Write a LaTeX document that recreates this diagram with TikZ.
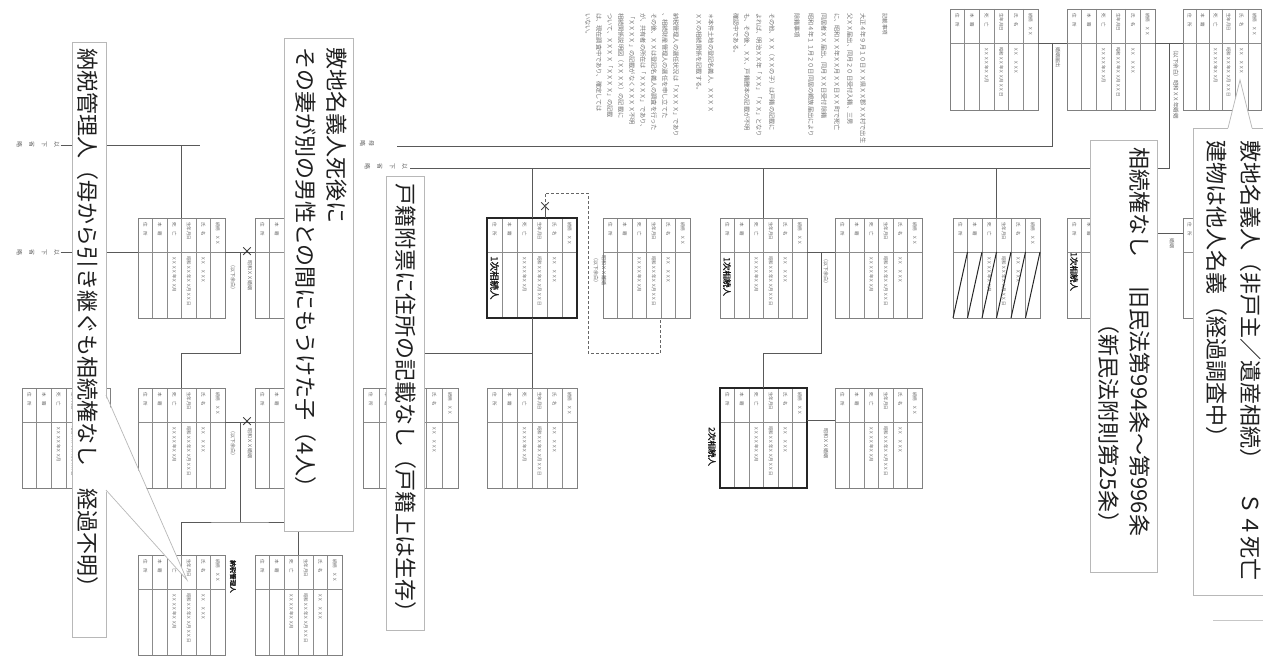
\documentclass[tikz,border=0pt]{standalone}
\usepackage{fontspec}
\setmainfont{Noto Sans CJK JP}
\newfontfamily\jpb{Noto Sans CJK JP}[FakeBold=1.5]
\usetikzlibrary{calc,fit}

\tikzset{
  conn/.style={draw=black!65, line width=0.9pt},
  dconn/.style={draw=black!60, line width=0.8pt, dash pattern=on 3pt off 2pt},
  tblframe/.style={draw=black!50, line width=0.6pt},
  tblbold/.style={draw=black!85, line width=1.4pt},
  tblgrid/.style={draw=black!45, line width=0.5pt},
  celltxt/.style={font=\fontsize{4.5}{5}\selectfont, text=black!60, inner sep=0pt, rotate=-90},
  conntxt/.style={font=\fontsize{5}{6}\selectfont, text=black!60, inner sep=0pt, rotate=-90, anchor=west},
  stacktxt/.style={font=\fontsize{6}{12.5}\selectfont, text=black!60, inner sep=1pt, align=center, rotate=-90},
  boldtxt/.style={font=\jpb\fontsize{8.5}{9}\selectfont, text=black!90, inner sep=0pt, rotate=-90, anchor=west},
  calloutbox/.style={draw=black!28, fill=white, line width=0.7pt, inner sep=0pt, anchor=north west},
  bigtxt/.style={font=\fontsize{22}{26}\selectfont, text=black!88, inner sep=0pt, rotate=-90},
  paratxt/.style={font=\fontsize{6.2}{7}\selectfont, text=black!55, inner sep=0pt, rotate=-90, anchor=west},
  xmark/.style={font=\fontsize{13}{13}\selectfont, text=black!85, inner sep=0pt},
}

% name, x1, y1, x2, y2, columns, frame style
\newcommand\famtbl[7]{%
  \coordinate (#1-a) at (#2,#3);
  \coordinate (#1-b) at (#4,#5);
  \node[fit=(#1-a)(#1-b), inner sep=0pt, outer sep=0pt, fill=white] (#1) {};
  \pgfmathsetmacro\tblw{(#4-#2)/#6}
  \pgfmathtruncatemacro\tbln{#6-1}
  \foreach \k in {1,...,\tbln}{\draw[tblgrid] ({#2+\k*\tblw},#3) -- ({#2+\k*\tblw},#5);}
  \draw[tblgrid] (#2,{#3+34}) -- (#4,{#3+34});
  \foreach \j/\h/\v in {0/続柄　ＸＸ/,1/氏　名/ＸＸ　ＸＸＸ,2/生年月日/昭和ＸＸ年ＸＸ月ＸＸ日,3/死　亡/ＸＸＸＸ年ＸＸ月,4/本　籍/,5/住　所/}{%
    \ifnum\j<#6\relax
      \node[celltxt, anchor=west] (#1-h\j) at ({#4-(\j+0.5)*\tblw},{#3+4}) {\h};
      \node[celltxt, anchor=west] (#1-v\j) at ({#4-(\j+0.5)*\tblw},{#3+38}) {\v};
    \fi}
  \draw[#7] (#1.north west) rectangle (#1.south east);
}

\begin{document}
\begin{tikzpicture}[x=1pt,y=-1pt]
\useasboundingbox (0,0) rectangle (1263,658);
\clip (0,0) rectangle (1263,658);
\fill[white] (0,0) rectangle (1263,658);

% ---------------- tables ----------------
\famtbl{TA}{950}{9}{1038}{110}{6}{tblframe}
\famtbl{TB}{1067}{9}{1155}{110}{6}{tblframe}
\famtbl{TC}{1183}{9}{1261}{110}{6}{tblframe}
\famtbl{L1}{138}{218}{225}{318}{6}{tblframe}
\famtbl{L2}{255}{218}{342}{318}{6}{tblframe}
\famtbl{L0}{22}{388}{110}{488}{6}{tblframe}
\famtbl{L3}{138}{388}{225}{488}{6}{tblframe}
\famtbl{L4}{255}{388}{342}{488}{6}{tblframe}
\famtbl{L5}{138}{555}{225}{655}{6}{tblframe}
\famtbl{L6}{255}{555}{342}{655}{6}{tblframe}
\famtbl{P1}{487}{218}{577}{318}{6}{tblbold}
\famtbl{M1}{603}{218}{690}{318}{6}{tblframe}
\famtbl{M2}{720}{218}{807}{318}{6}{tblframe}
\famtbl{M3}{835}{218}{922}{318}{6}{tblframe}
\famtbl{M7}{953}{218}{1040}{318}{6}{tblframe}
\famtbl{M8}{1067}{218}{1155}{318}{6}{tblframe}
\famtbl{M9}{1183}{218}{1261}{318}{6}{tblframe}
\famtbl{Ms}{363}{388}{458}{488}{6}{tblframe}
\famtbl{M4}{487}{388}{577}{488}{6}{tblframe}
\famtbl{M5}{720}{388}{807}{488}{6}{tblbold}
\famtbl{M6}{835}{388}{922}{488}{6}{tblframe}

% hatching of the struck-out table
\foreach \i in {0,...,5}{\draw[black!85, line width=1pt] ({953+\i*14.5},318) -- ({953+(\i+1)*14.5},252);}

% ---------------- labels at the line ends ----------------
\node[stacktxt] (lblL1) at (38,145) {以\\下\\省\\略};
\node[stacktxt] (lblL2) at (38,252) {以\\下\\省\\略};
\node[stacktxt, font=\fontsize{6}{9}\selectfont] (lblA) at (367,144) {母\\略};
\node[stacktxt] (lblB) at (386,167) {以\\下\\省\\略};
\coordinate (aA) at (397,146);
\coordinate (aB) at (410,168);
\coordinate (cL1) at (200,145);

% ---------------- connectors: left family ----------------
\draw[conn] (lblL1.north) -- (cL1);
\draw[conn] (L1.north) -- (L1.north |- cL1);
\draw[conn] (lblL2.north) -- (L1.west |- lblL2.north);
\draw[conn] ([yshift=-34pt]L1.north east) -- ([yshift=-34pt]L2.north west);
\node[xmark] (X1) at (247,252) {×};
\coordinate (j1) at (240,252);
\draw[conn] (j1) -- ++(0,101) -| (L3.north);
\draw[conn] ([yshift=-34pt]L3.north east) -- ([yshift=-34pt]L4.north west);
\node[xmark] (X2) at (247,422) {×};
\coordinate (j2) at (240,422);
\draw[conn] (j2) -- ++(0,100) coordinate (j2b);
\draw[conn] (L5.north) |- (j2b) -| (L6.north);

% ---------------- connectors: main family ----------------
\draw[conn] ($(TA.north east)+(0,34)$) -- ($(TB.north west)+(0,34)$);
\draw[conn] ($(TA.north east)!0.5!(TB.north west)+(0,34)$) |- (aA);
\draw[conn] ($(TB.north east)+(0,34)$) -- ($(TC.north west)+(0,34)$);
\draw[conn] ($(TB.north east)!0.5!(TC.north west)+(0,34)$) |- (aB);
\draw[conn] (P1.north) -- (P1.north |- aB);
\draw[conn] (M2.north) -- (M2.north |- aB);
\draw[conn] (M7.north) -- (M7.north |- aB);
\draw[conn] (M8.north) -- (M8.north |- aB);
\draw[conn] (P1.south) -- (M4.north);
\draw[conn] ($(P1.south)+(0,35)$) -| (Ms.north);
\node[xmark] (X3) at (545,207) {×};
\draw[conn] (X3.center) -- (X3.center |- P1.north);
\coordinate (d1) at (588,193);
\coordinate (d2) at (588,353);
\draw[dconn] (X3.center) |- (d1) -- (d2) -| ([xshift=14pt]M1.south);
\draw[conn] ($(M2.north east)+(0,34)$) -- ($(M3.north west)+(0,34)$);
\draw[conn] ($(M2.north east)!0.5!(M3.north west)+(0,34)$) -- ++(0,101) -| (M5.north);
\draw[conn] ($(M5.north east)+(0,32)$) -- ($(M6.north west)+(0,32)$);
\draw[conn] ($(M8.north east)+(0,15)$) -- ($(M9.north west)+(0,15)$);

% small texts on connectors
\node[conntxt] (c1) at (1058,47) {婚姻届出};
\node[conntxt, font=\fontsize{5.5}{6}\selectfont] (c2) at (1176,47) {（以下余白）昭和ＸＸ年婚姻};
\node[conntxt] (c3) at (233,262) {（以下余白）};
\node[conntxt] (c4) at (250,260) {昭和ＸＸ婚姻};
\node[conntxt] (c5) at (233,428) {（以下余白）};
\node[conntxt] (c6) at (250,428) {昭和ＸＸ婚姻};
\node[conntxt] (c7) at (596,255) {（以下余白）};
\node[conntxt] (c8) at (604,255) {昭和ＸＸ離婚};
\node[conntxt] (c9) at (826,256) {（以下余白）};
\node[conntxt] (c10) at (826,428) {昭和ＸＸ婚姻};
\node[conntxt] (c11) at (1172,238) {婚姻};

% bold role labels
\node[boldtxt, font=\jpb\fontsize{9.5}{10}\selectfont] (r1) at (494.5,256) {1次相続人};
\node[boldtxt] (r2) at (727,257) {1次相続人};
\node[boldtxt] (r3) at (1074,252) {1次相続人};
\node[boldtxt] (r4) at (712,427) {2次相続人};
\node[boldtxt, font=\jpb\fontsize{6.5}{7}\selectfont] (r5) at (233,560) {納税管理人};

% ---------------- paragraph of notes ----------------
\node[paratxt, font=\fontsize{5.5}{6}\selectfont] (p0) at (885,13) {記載事項};
\node[paratxt] (p1) at (863,13) {大正４年９月１０日ＸＸ県ＸＸ郡ＸＸ村で出生};
\node[paratxt] (p2) at (850,13) {父ＸＸ届出、同月２０日受付入籍、三男};
\node[paratxt] (p3) at (837,13) {に、昭和ＸＸ年ＸＸ月ＸＸ日ＸＸ町で死亡};
\node[paratxt] (p4) at (824,13) {同居者ＸＸ届出、同月ＸＸ日受付除籍};
\node[paratxt] (p5) at (811,13) {昭和４年１１月２０日同居の親族届出により};
\node[paratxt] (p6) at (797,13) {除籍事項};
\node[paratxt] (p7) at (772,13) {その他、ＸＸ（ＸＸの子）は戸籍の記載に};
\node[paratxt] (p8) at (759,13) {よれば、明治ＸＸ年「ＸＸ」「ＸＸ」となり};
\node[paratxt] (p9) at (747,13) {も、その後、ＸＸ、戸籍謄本の記載が不明};
\node[paratxt] (p10) at (736,13) {確認中である。};
\node[paratxt] (p11) at (711,13) {＊本件土地の登記名義人、ＸＸＸＸ};
\node[paratxt] (p12) at (699,13) {ＸＸの相続関係を記載する。};
\node[paratxt] (p13) at (676,13) {納税管理人の選任状況は「ＸＸＸＸ」であり};
\node[paratxt] (p14) at (665,13) {、相続財産管理人の選任を申し立てた};
\node[paratxt] (p15) at (654,13) {その後、ＸＸは登記名義人の調査を行った};
\node[paratxt] (p16) at (643,13) {が、共有者の所在は「ＸＸＸＸ」であり、};
\node[paratxt] (p17) at (632,13) {「ＸＸＸＸ」の記載がなくＸＸＸＸ不明};
\node[paratxt] (p18) at (621,13) {相続関係説明図（ＸＸＸＸ）の記載に};
\node[paratxt] (p19) at (610,13) {ついて、ＸＸＸＸ「ＸＸＸＸ」の記載};
\node[paratxt] (p20) at (599,13) {は、現在調査中であり、確定しては};
\node[paratxt] (p21) at (588,13) {いない。};

% ---------------- callout boxes ----------------
\node[calloutbox, minimum width=34pt, minimum height=595pt] (B1) at (72,42) {};
\fill[white] (105,395) -- (187,580) -- (105,490) -- cycle;
\draw[black!28, line width=0.7pt] (106,395) -- (187,580) -- (106,490);
\node[calloutbox, minimum width=69pt, minimum height=493pt] (B2) at (284,38) {};
\node[calloutbox, minimum width=38pt, minimum height=454pt] (B3) at (386,176) {};
\node[calloutbox, minimum width=67pt, minimum height=432pt] (B4) at (1090,140) {};
\node[calloutbox, minimum width=80pt, minimum height=467pt] (B5) at (1193,128) {};
\fill[white] (1228,129) -- (1240,80) -- (1252,129) -- cycle;
\draw[black!28, line width=0.7pt] (1228,128) -- (1240,80) -- (1252,128);
\draw[black!22, line width=0.6pt] (1213,620) -- (1263,620);

% ---------------- callout texts ----------------
\node[bigtxt, anchor=west] (T1) at (88,48) {納税管理人（母から引き継ぐも相続権なし　経過不明）};
\node[bigtxt, anchor=west] (T2) at (337,47) {敷地名義人死後に};
\node[bigtxt, anchor=west] (T3) at (306,47) {その妻が別の男性との間にもうけた子（4人）};
\node[bigtxt, anchor=west] (T4) at (406,183) {戸籍附票に住所の記載なし（戸籍上は生存）};
\node[bigtxt, anchor=west] (T5) at (1251,140) {敷地名義人（非戸主／遺産相続）　Ｓ４死亡};
\node[bigtxt, anchor=west] (T6) at (1217,140) {建物は他人名義（経過調査中）};
\node[bigtxt, anchor=west] (T7) at (1140,147) {相続権なし\hspace{1.35em}旧民法第994条～第996条};
\node[bigtxt, anchor=east] (T8) at (1109,535) {（新民法附則第25条）};
\end{tikzpicture}
\end{document}
